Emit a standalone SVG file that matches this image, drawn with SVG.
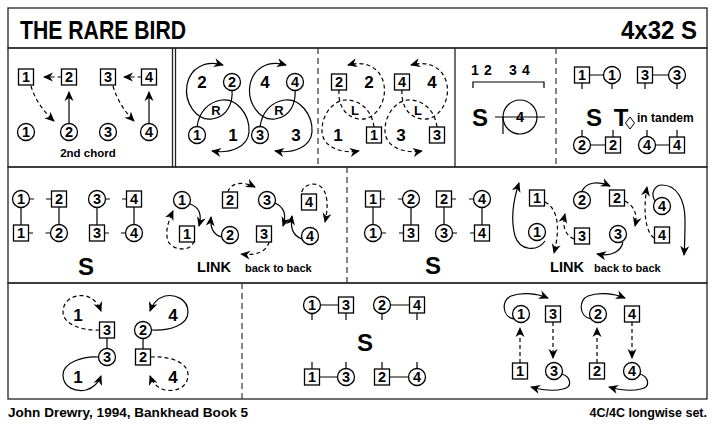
<svg xmlns="http://www.w3.org/2000/svg" width="715" height="426" viewBox="0 0 715 426">
<defs>
<marker id="ah" viewBox="0 0 10 10" refX="9" refY="5" markerWidth="10" markerHeight="10" markerUnits="userSpaceOnUse" orient="auto"><path d="M0,0.5 L10,5 L0,9.5 L3,5 Z" fill="#000"/></marker>
<style>
.f{fill:none;stroke:#222;stroke-width:1.3}
.dv{stroke:#333;stroke-width:1.2;stroke-dasharray:6,4;fill:none}
.sv{stroke:#222;stroke-width:1.3;fill:none}
.c{fill:#fff;stroke:#000;stroke-width:1.3}
.s{fill:#fff;stroke:#000;stroke-width:1.3}
text{font-family:"Liberation Sans",Arial,Helvetica,sans-serif;font-weight:bold;fill:#000}
.n{font-size:14.5px;text-anchor:middle}
.b{font-size:17px;text-anchor:middle}
.m{font-size:13px;text-anchor:middle}
.big{font-size:24px;text-anchor:middle}
.p{fill:none;stroke:#000;stroke-width:1.2}
.a{marker-end:url(#ah)}
.d{stroke-dasharray:4,3}
.ln{stroke:#000;stroke-width:1.2;fill:none}
</style>
</defs>
<rect width="715" height="426" fill="#fff"/>
<g id="frame">
<rect x="8" y="8" width="699" height="40" class="f"/>
<rect x="8" y="48" width="699" height="119" class="f"/>
<rect x="8" y="167" width="699" height="116" class="f"/>
<rect x="8" y="283" width="699" height="116" class="f"/>
<path class="sv" d="M172.5,48V167M175.5,48V167M455,48V167"/>
<path class="dv" d="M318,48V167M556,48V167M347,167V283M242,283V399"/>
</g>
<g id="title">
<text x="20" y="39" font-size="26" textLength="166" lengthAdjust="spacingAndGlyphs">THE RARE BIRD</text>
<text x="697" y="39" font-size="26" text-anchor="end" textLength="76" lengthAdjust="spacingAndGlyphs">4x32 S</text>
</g>
<g id="footer">
<text x="8" y="417" font-size="12.5" textLength="240" lengthAdjust="spacingAndGlyphs">John Drewry, 1994, Bankhead Book 5</text>
<text x="707" y="417" font-size="12.5" text-anchor="end">4C/4C longwise set.</text>
</g>

<g id="connectors">
<!-- panel 1 -->
<path class="p d a" d="M61.5,77H44"/>
<path class="p d a" d="M141.5,77H124"/>
<path class="p d a" d="M31,86C35,100 44,112 54,121"/>
<path class="p d a" d="M113,86C117,100 125,112 134,121"/>
<path class="p a" d="M69,123V92"/>
<path class="p a" d="M149,123V92"/>
<!-- panel 2 -->
<g transform="translate(0,-2)">
<path class="p a" d="M197,129C199,114 208,104 222,102C236,100 250,116 249,134C248,149 230,156 212,153"/>
<path class="p a" d="M232,92C233,104 228,119 212,121C196,123 184,104 187,87C190,70 205,62 223,67"/>
</g>
<g transform="translate(63,-2)">
<path class="p a" d="M197,129C199,114 208,104 222,102C236,100 250,116 249,134C248,149 230,156 212,153"/>
<path class="p a" d="M232,92C233,104 228,119 212,121C196,123 184,104 187,87C190,70 205,62 223,67"/>
</g>
<!-- panel 3 -->
<g transform="translate(571,-2) scale(-1,1)">
<path class="p d a" d="M197,129C199,114 208,104 222,102C236,100 250,116 249,134C248,149 230,156 212,153"/>
<path class="p d a" d="M232,92C233,104 228,119 212,121C196,123 184,104 187,87C190,70 205,62 223,67"/>
</g>
<g transform="translate(634,-2) scale(-1,1)">
<path class="p d a" d="M197,129C199,114 208,104 222,102C236,100 250,116 249,134C248,149 230,156 212,153"/>
<path class="p d a" d="M232,92C233,104 228,119 212,121C196,123 184,104 187,87C190,70 205,62 223,67"/>
</g>
<!-- panel 4 -->
<path class="ln" d="M473,88V82H544V88"/>
<path class="ln" d="M495,117H545M503,117V134"/>
<!-- panel 5 -->
<path class="ln" d="M589.5,75H603.5M582,83V89M612,83.5V89M652.5,75H668.5M645,83V89M677,83.5V89"/>
<path class="ln" d="M590.5,145H605.5M582,136.5V130M613,137V130M655.5,145H669.5M647,136.5V130M677,137V130"/>
<!-- row 2 left formation -->
<path class="ln" d="M29.5,199H34M46,199H51.5M105.5,199H110M122,199H126.5M28.5,233H33M45.5,233H50.5M104.5,233H109M121,233H125.5"/>
<path class="ln" d="M21,207.5V225M59,207V224.5M97,207.5V225M134,207V224.5"/>
<!-- row 2 left link -->
<path class="p d a" d="M194,241C192,252 172,251 168,241C165,232 168,222 173,211"/>
<path class="p a" d="M190,204C199,207 202,215 199,226"/>
<path class="p a" d="M222,237C213,235 210,228 211,217"/>
<path class="p d a" d="M228,192C230,184 241,180 255,187"/>
<path class="p a" d="M275,203C284,207 287,214 283,226"/>
<path class="p a" d="M302,239C293,236 290,228 292,216"/>
<path class="p d a" d="M302,199C299,189 307,184 314,184C326,185 330,200 325,222"/>
<path class="p d a" d="M269,242C267,251 257,256 241,254"/>
<!-- row 2 right formation -->
<path class="ln" d="M380.5,199H385M398,199H402.5M451.5,199H456M469,199H473.5M381.5,233H386M399,233H403.5M452.5,233H457M470,233H474.5"/>
<path class="ln" d="M373,207V224.5M411,207.5V225M444,207V224.5M482,207.5V225"/>
<!-- row 2 right link -->
<path class="p a" d="M545,241C537,252 520,251 515,236C511,221 513,201 519,183"/>
<path class="p d a" d="M545,202C557,208 561,226 554,253"/>
<path class="p d a" d="M574,239C565,235 562,226 565,214"/>
<path class="p a" d="M582,191C586,183 597,180 610,186"/>
<path class="p d a" d="M625,201C634,206 638,214 635,226"/>
<path class="p a" d="M623,242C621,251 612,257 597,254"/>
<path class="p d a" d="M654,238C645,231 643,210 647,187"/>
<path class="p a" d="M655,201C650,193 655,185 662,185C677,185 685,200 685,220C685,232 685,242 684,255"/>
<!-- row 3 left -->
<path class="ln" d="M107,338V348.5M143,338.5V349"/>
<path class="p d a" d="M99.5,330C84,331 63,325 63,312C63,299 76,294 86,296C93,298 98,303 101,311"/>
<path class="p a" d="M151.5,330C170,331 188,325 188,312C188,299 175,294 165,296C158,298 153,303 150,311"/>
<path class="p a" d="M98.5,357C84,356 63,362 63,375C63,388 76,392 86,390C93,388 98,384 101,376"/>
<path class="p d a" d="M150.5,357C170,356 188,362 188,375C188,388 175,392 165,390C158,388 153,384 150,376"/>
<!-- row 3 middle -->
<path class="ln" d="M320.5,305H338.5M390.5,305H409.5M312,313.5V320M346,313V320M382,313.5V320M417,313V320"/>
<path class="ln" d="M319.5,377H337.5M389.5,377H408.5M312,369V362M346,368.5V362M382,369V362M417,368.5V362"/>
<!-- row 3 right -->
<path class="p a" d="M514,319C502,317 501,300 511,296C521,292 536,293 548,298"/>
<path class="p a" d="M591,319C579,317 578,300 588,296C598,292 613,293 625,298"/>
<path class="p d a" d="M520,363V328"/>
<path class="p d a" d="M553,322V358"/>
<path class="p d a" d="M597,363V328"/>
<path class="p d a" d="M632,322V358"/>
<path class="p a" d="M562,374C571,377 573,387 563,389C555,391 542,390 531,387"/>
<path class="p a" d="M640,374C649,377 651,387 641,389C633,391 620,390 609,387"/>
</g>

<!-- ===== nodes ===== -->
<g id="p1-m1"><rect class="s" x="18.5" y="69" width="15" height="16"/><text class="n" x="26" y="82.2">1</text></g>
<g id="p1-m2"><rect class="s" x="61.5" y="69" width="15" height="16"/><text class="n" x="69" y="82.2">2</text></g>
<g id="p1-m3"><rect class="s" x="100.5" y="69" width="15" height="16"/><text class="n" x="108" y="82.2">3</text></g>
<g id="p1-m4"><rect class="s" x="141.5" y="69" width="15" height="16"/><text class="n" x="149" y="82.2">4</text></g>
<g id="p1-w1"><circle class="c" cx="26" cy="132" r="8.5"/><text class="n" x="26" y="137.2">1</text></g>
<g id="p1-w2"><circle class="c" cx="69" cy="132" r="8.5"/><text class="n" x="69" y="137.2">2</text></g>
<g id="p1-w3"><circle class="c" cx="108" cy="132" r="8.5"/><text class="n" x="108" y="137.2">3</text></g>
<g id="p1-w4"><circle class="c" cx="149" cy="132" r="8.5"/><text class="n" x="149" y="137.2">4</text></g>
<g id="p1-label"><text x="88" y="157" font-size="11.5" text-anchor="middle">2nd chord</text></g>

<g id="p2-m2"><text class="b" x="202" y="88">2</text></g>
<g id="p2-w2"><circle class="c" cx="232" cy="82" r="8.5"/><text class="n" x="232" y="87.2">2</text></g>
<g id="p2-m4"><text class="b" x="265" y="88">4</text></g>
<g id="p2-w4"><circle class="c" cx="295" cy="82" r="8.5"/><text class="n" x="295" y="87.2">4</text></g>
<g id="p2-w1"><circle class="c" cx="197" cy="135" r="8.5"/><text class="n" x="197" y="140.2">1</text></g>
<g id="p2-m1"><text class="b" x="233" y="141">1</text></g>
<g id="p2-w3"><circle class="c" cx="260" cy="135" r="8.5"/><text class="n" x="260" y="140.2">3</text></g>
<g id="p2-m3"><text class="b" x="296" y="141">3</text></g>
<g id="p2-r1"><text class="m" x="216" y="114.7">R</text></g>
<g id="p2-r2"><text class="m" x="279" y="114.7">R</text></g>

<g id="p3-m2"><rect class="s" x="331.5" y="74" width="15" height="16"/><text class="n" x="339" y="87.2">2</text></g>
<g id="p3-w2"><text class="b" x="369" y="88">2</text></g>
<g id="p3-m4"><rect class="s" x="394.5" y="74" width="15" height="16"/><text class="n" x="402" y="87.2">4</text></g>
<g id="p3-w4"><text class="b" x="432" y="88">4</text></g>
<g id="p3-w1"><text class="b" x="338" y="141">1</text></g>
<g id="p3-m1"><rect class="s" x="366.5" y="127" width="15" height="16"/><text class="n" x="374" y="140.2">1</text></g>
<g id="p3-w3"><text class="b" x="401" y="141">3</text></g>
<g id="p3-m3"><rect class="s" x="429.5" y="127" width="15" height="16"/><text class="n" x="437" y="140.2">3</text></g>
<g id="p3-l1"><text class="m" x="355" y="114.7">L</text></g>
<g id="p3-l2"><text class="m" x="418" y="114.7">L</text></g>

<g id="p4-nums"><text x="475" y="75" font-size="14" text-anchor="middle">1</text><text x="488" y="75" font-size="14" text-anchor="middle">2</text><text x="513" y="75" font-size="14" text-anchor="middle">3</text><text x="526" y="75" font-size="14" text-anchor="middle">4</text></g>
<g id="p4-s"><text class="big" x="480" y="125.5">S</text></g>
<g id="p4-circle"><circle cx="520" cy="117" r="17" fill="none" stroke="#000" stroke-width="1.2"/><text x="520" y="122.2" font-size="14.5" text-anchor="middle">4</text></g>

<g id="p5-m1"><rect class="s" x="574.5" y="67" width="15" height="16"/><text class="n" x="582" y="80.2">1</text></g>
<g id="p5-w1"><circle class="c" cx="612" cy="75" r="8.5"/><text class="n" x="612" y="80.2">1</text></g>
<g id="p5-m3"><rect class="s" x="637.5" y="67" width="15" height="16"/><text class="n" x="645" y="80.2">3</text></g>
<g id="p5-w3"><circle class="c" cx="677" cy="75" r="8.5"/><text class="n" x="677" y="80.2">3</text></g>
<g id="p5-w2"><circle class="c" cx="582" cy="145" r="8.5"/><text class="n" x="582" y="150.2">2</text></g>
<g id="p5-m2"><rect class="s" x="605.5" y="137" width="15" height="16"/><text class="n" x="613" y="150.2">2</text></g>
<g id="p5-w4"><circle class="c" cx="647" cy="145" r="8.5"/><text class="n" x="647" y="150.2">4</text></g>
<g id="p5-m4"><rect class="s" x="669.5" y="137" width="15" height="16"/><text class="n" x="677" y="150.2">4</text></g>
<g id="p5-st"><text class="big" x="594" y="125.5">S</text><text class="big" x="621" y="125.5">T</text><path d="M630,117L634.5,123L630,129L625.5,123Z" fill="none" stroke="#000" stroke-width="1"/><text x="637" y="122" font-size="12">in tandem</text></g>

<g id="r2a-w1"><circle class="c" cx="21" cy="199" r="8.5"/><text class="n" x="21" y="204.2">1</text></g>
<g id="r2a-m2"><rect class="s" x="51.5" y="191" width="15" height="16"/><text class="n" x="59" y="204.2">2</text></g>
<g id="r2a-w3"><circle class="c" cx="97" cy="199" r="8.5"/><text class="n" x="97" y="204.2">3</text></g>
<g id="r2a-m4"><rect class="s" x="126.5" y="191" width="15" height="16"/><text class="n" x="134" y="204.2">4</text></g>
<g id="r2a-m1"><rect class="s" x="13.5" y="225" width="15" height="16"/><text class="n" x="21" y="238.2">1</text></g>
<g id="r2a-w2"><circle class="c" cx="59" cy="233" r="8.5"/><text class="n" x="59" y="238.2">2</text></g>
<g id="r2a-m3"><rect class="s" x="89.5" y="225" width="15" height="16"/><text class="n" x="97" y="238.2">3</text></g>
<g id="r2a-w4"><circle class="c" cx="134" cy="233" r="8.5"/><text class="n" x="134" y="238.2">4</text></g>
<g id="r2a-s"><text class="big" x="86" y="275">S</text></g>

<g id="r2b-w1"><circle class="c" cx="182" cy="200" r="8.5"/><text class="n" x="182" y="205.2">1</text></g>
<g id="r2b-m1"><rect class="s" x="179.5" y="226" width="15" height="16"/><text class="n" x="187" y="239.2">1</text></g>
<g id="r2b-m2"><rect class="s" x="222.5" y="192" width="15" height="16"/><text class="n" x="230" y="205.2">2</text></g>
<g id="r2b-w2"><circle class="c" cx="230" cy="235" r="8.5"/><text class="n" x="230" y="240.2">2</text></g>
<g id="r2b-w3"><circle class="c" cx="267" cy="200" r="8.5"/><text class="n" x="267" y="205.2">3</text></g>
<g id="r2b-m3"><rect class="s" x="256.5" y="226" width="15" height="16"/><text class="n" x="264" y="239.2">3</text></g>
<g id="r2b-m4"><rect class="s" x="301.5" y="194" width="15" height="16"/><text class="n" x="309" y="207.2">4</text></g>
<g id="r2b-w4"><circle class="c" cx="310" cy="236" r="8.5"/><text class="n" x="310" y="241.2">4</text></g>
<g id="r2b-label"><text x="197" y="272" font-size="15" textLength="34" lengthAdjust="spacingAndGlyphs">LINK</text><text x="245" y="272" font-size="11">back to back</text></g>

<g id="r2c-m1"><rect class="s" x="365.5" y="191" width="15" height="16"/><text class="n" x="373" y="204.2">1</text></g>
<g id="r2c-w2"><circle class="c" cx="411" cy="199" r="8.5"/><text class="n" x="411" y="204.2">2</text></g>
<g id="r2c-m2"><rect class="s" x="436.5" y="191" width="15" height="16"/><text class="n" x="444" y="204.2">2</text></g>
<g id="r2c-w4"><circle class="c" cx="482" cy="199" r="8.5"/><text class="n" x="482" y="204.2">4</text></g>
<g id="r2c-w1"><circle class="c" cx="373" cy="233" r="8.5"/><text class="n" x="373" y="238.2">1</text></g>
<g id="r2c-m3"><rect class="s" x="403.5" y="225" width="15" height="16"/><text class="n" x="411" y="238.2">3</text></g>
<g id="r2c-w3"><circle class="c" cx="444" cy="233" r="8.5"/><text class="n" x="444" y="238.2">3</text></g>
<g id="r2c-m4"><rect class="s" x="474.5" y="225" width="15" height="16"/><text class="n" x="482" y="238.2">4</text></g>
<g id="r2c-s"><text class="big" x="433" y="274">S</text></g>

<g id="r2d-m1"><rect class="s" x="529.5" y="190" width="15" height="16"/><text class="n" x="537" y="203.2">1</text></g>
<g id="r2d-w1"><circle class="c" cx="537" cy="232" r="8.5"/><text class="n" x="537" y="237.2">1</text></g>
<g id="r2d-w2"><circle class="c" cx="582" cy="200" r="8.5"/><text class="n" x="582" y="205.2">2</text></g>
<g id="r2d-m3"><rect class="s" x="574.5" y="228" width="15" height="16"/><text class="n" x="582" y="241.2">3</text></g>
<g id="r2d-m2"><rect class="s" x="609.5" y="190" width="15" height="16"/><text class="n" x="617" y="203.2">2</text></g>
<g id="r2d-w3"><circle class="c" cx="618" cy="234" r="8.5"/><text class="n" x="618" y="239.2">3</text></g>
<g id="r2d-w4"><circle class="c" cx="662" cy="206" r="8.5"/><text class="n" x="662" y="211.2">4</text></g>
<g id="r2d-m4"><rect class="s" x="654.5" y="227" width="15" height="16"/><text class="n" x="662" y="240.2">4</text></g>
<g id="r2d-label"><text x="550" y="272" font-size="15" textLength="34" lengthAdjust="spacingAndGlyphs">LINK</text><text x="594" y="272" font-size="11">back to back</text></g>

<g id="r3a-m3"><rect class="s" x="99.5" y="322" width="15" height="16"/><text class="n" x="107" y="335.2">3</text></g>
<g id="r3a-w3"><circle class="c" cx="107" cy="357" r="8.5"/><text class="n" x="107" y="362.2">3</text></g>
<g id="r3a-w2"><circle class="c" cx="143" cy="330" r="8.5"/><text class="n" x="143" y="335.2">2</text></g>
<g id="r3a-m2"><rect class="s" x="135.5" y="349" width="15" height="16"/><text class="n" x="143" y="362.2">2</text></g>
<g id="r3a-b"><text class="b" x="78" y="321">1</text><text class="b" x="78" y="383">1</text><text class="b" x="173" y="321">4</text><text class="b" x="173" y="383">4</text></g>

<g id="r3b-w1"><circle class="c" cx="312" cy="305" r="8.5"/><text class="n" x="312" y="310.2">1</text></g>
<g id="r3b-m3"><rect class="s" x="338.5" y="297" width="15" height="16"/><text class="n" x="346" y="310.2">3</text></g>
<g id="r3b-w2"><circle class="c" cx="382" cy="305" r="8.5"/><text class="n" x="382" y="310.2">2</text></g>
<g id="r3b-m4"><rect class="s" x="409.5" y="297" width="15" height="16"/><text class="n" x="417" y="310.2">4</text></g>
<g id="r3b-m1"><rect class="s" x="304.5" y="369" width="15" height="16"/><text class="n" x="312" y="382.2">1</text></g>
<g id="r3b-w3"><circle class="c" cx="346" cy="377" r="8.5"/><text class="n" x="346" y="382.2">3</text></g>
<g id="r3b-m2"><rect class="s" x="374.5" y="369" width="15" height="16"/><text class="n" x="382" y="382.2">2</text></g>
<g id="r3b-w4"><circle class="c" cx="417" cy="377" r="8.5"/><text class="n" x="417" y="382.2">4</text></g>
<g id="r3b-s"><text class="big" x="365" y="351">S</text></g>

<g id="r3c-w1"><circle class="c" cx="521" cy="314" r="8.5"/><text class="n" x="521" y="319.2">1</text></g>
<g id="r3c-m3"><rect class="s" x="545.5" y="306" width="15" height="16"/><text class="n" x="553" y="319.2">3</text></g>
<g id="r3c-w2"><circle class="c" cx="598" cy="314" r="8.5"/><text class="n" x="598" y="319.2">2</text></g>
<g id="r3c-m4"><rect class="s" x="624.5" y="306" width="15" height="16"/><text class="n" x="632" y="319.2">4</text></g>
<g id="r3c-m1"><rect class="s" x="512.5" y="363" width="15" height="16"/><text class="n" x="520" y="376.2">1</text></g>
<g id="r3c-w3"><circle class="c" cx="554" cy="371" r="8.5"/><text class="n" x="554" y="376.2">3</text></g>
<g id="r3c-m2"><rect class="s" x="589.5" y="363" width="15" height="16"/><text class="n" x="597" y="376.2">2</text></g>
<g id="r3c-w4"><circle class="c" cx="632" cy="371" r="8.5"/><text class="n" x="632" y="376.2">4</text></g>
</svg>
